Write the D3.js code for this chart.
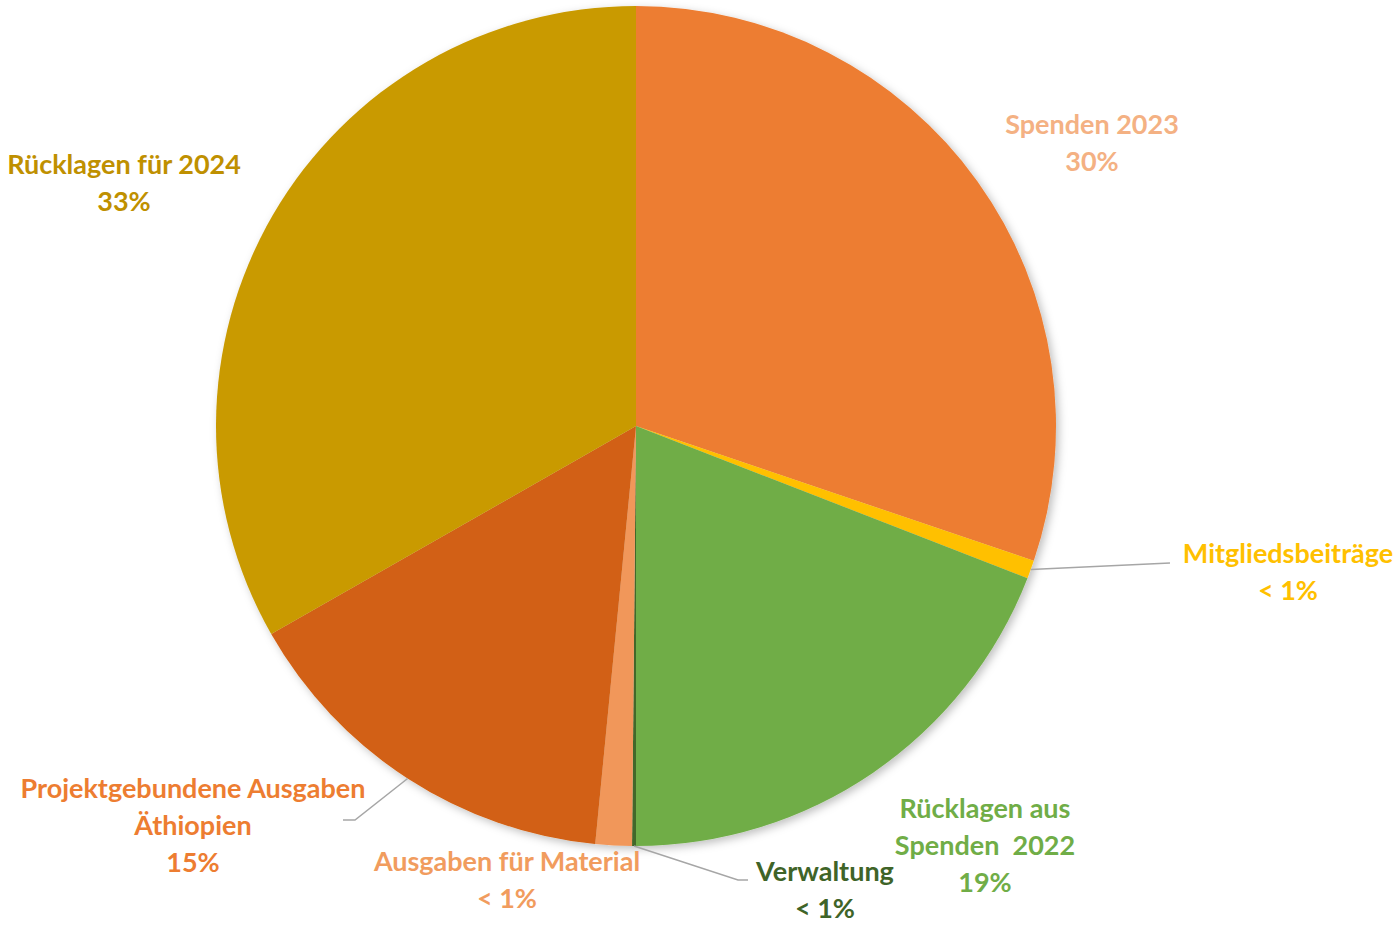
<!DOCTYPE html>
<html>
<head>
<meta charset="utf-8">
<script src="https://cdn.jsdelivr.net/npm/d3@7"></script>
<style>
  body { margin: 0; background: #fff; }
  text { font-family: Lato, "Open Sans", sans-serif; font-weight: 700; }
</style>
</head>
<body>
<div id="chart"></div>
<script>
// Slice data, clockwise from 12 o'clock
var categories = ["Spenden 2023", "Mitgliedsbeiträge", "Rücklagen aus Spenden  2022", "Verwaltung",
                  "Ausgaben für Material", "Projektgebundene Ausgaben Äthiopien", "Rücklagen für 2024"];
var values = [30.2, 0.7, 19.1, 0.15, 1.4, 15.2, 33.25];
var pctLabels = ["30%", "< 1%", "19%", "< 1%", "< 1%", "15%", "33%"];
var labelLines = [
  ["Spenden 2023"],
  ["Mitgliedsbeiträge"],
  ["Rücklagen aus", "Spenden  2022"],
  ["Verwaltung"],
  ["Ausgaben für Material"],
  ["Projektgebundene Ausgaben", "Äthiopien"],
  ["Rücklagen für 2024"]
];

var sliceColors = ["#ED7D31", "#FFC000", "#70AD47", "#43682B", "#F1975A", "#D26012", "#C99A00"];
var textColors  = ["#F4B183", "#FFC000", "#70AD47", "#3F6428", "#F19C5E", "#ED7D31", "#BF9000"];

// label anchor (centre of first line) and optional leader bend
var labelPos = [
  {x: 1092, y: 125},
  {x: 1288, y: 554, leader: [[1170, 563]]},
  {x: 985, y: 809},
  {x: 825, y: 872, leader: [[738, 880], [748, 880]]},
  {x: 507, y: 862},
  {x: 193, y: 789, leader: [[355, 820], [343, 820]]},
  {x: 124, y: 165}
];

var width = 1399, height = 925;
var cx = 636, cy = 426, radius = 420;

var svg = d3.select("#chart").append("svg")
    .attr("width", width)
    .attr("height", height);

var defs = svg.append("defs");
var filter = defs.append("filter").attr("id", "shadow")
    .attr("x", "-10%").attr("y", "-10%").attr("width", "120%").attr("height", "120%");
filter.append("feDropShadow")
    .attr("dx", 3).attr("dy", 3).attr("stdDeviation", 4)
    .attr("flood-color", "#000").attr("flood-opacity", 0.25);

var pie = d3.pie().sort(null).value(function(d) { return d; });
var arcs = pie(values);

var arc = d3.arc().innerRadius(0).outerRadius(radius);

var g = svg.append("g")
    .attr("transform", "translate(" + cx + "," + cy + ")");

g.append("g").attr("filter", "url(#shadow)")
  .selectAll("path")
  .data(arcs)
  .enter().append("path")
    .attr("d", arc)
    .attr("fill", function(d, i) { return sliceColors[i]; });

// leader lines
arcs.forEach(function(d, i) {
  var p = labelPos[i];
  if (!p.leader) return;
  var mid = (d.startAngle + d.endAngle) / 2;
  var start = [cx + Math.sin(mid) * radius, cy - Math.cos(mid) * radius];
  var pts = [start].concat(p.leader);
  svg.append("path")
    .attr("d", d3.line()(pts))
    .attr("fill", "none")
    .attr("stroke", "#A6A6A6")
    .attr("stroke-width", 1.5);
});

// labels
var lineH = 37;
labelPos.forEach(function(p, i) {
  var t = svg.append("text")
    .attr("text-anchor", "middle")
    .attr("font-size", 27)
    .attr("fill", textColors[i]);
  var lines = labelLines[i].concat([pctLabels[i]]);
  lines.forEach(function(s, k) {
    t.append("tspan")
      .attr("x", p.x)
      .attr("y", p.y + k * lineH)
      .attr("dy", "0.35em")
      .style("white-space", "pre")
      .text(s);
  });
});
</script>
</body>
</html>
